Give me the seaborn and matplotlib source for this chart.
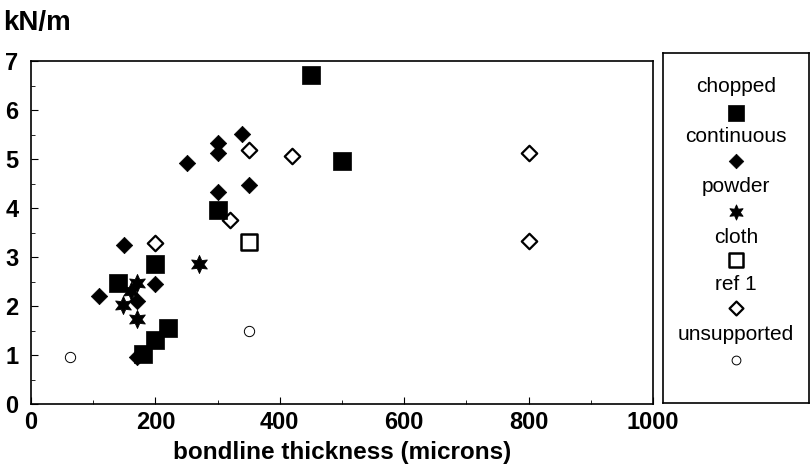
import matplotlib
matplotlib.use("Agg")
import matplotlib.pyplot as plt
import seaborn as sns
import numpy as np

# ---- data ----
chopped_x = [140, 200, 220, 200, 180, 300, 450, 500]
chopped_y = [2.47, 2.85, 1.55, 1.30, 1.03, 3.95, 6.72, 4.95]

continuous_x = [110, 150, 170, 200, 170, 250, 300, 300, 300, 340, 350]
continuous_y = [2.20, 3.25, 2.10, 2.45, 0.95, 4.92, 5.33, 5.12, 4.33, 5.52, 4.46]

powder_x = [170, 160, 148, 170, 270]
powder_y = [2.47, 2.30, 2.02, 1.73, 2.85]

cloth_x = [350]
cloth_y = [3.30]

ref1_x = [200, 320, 350, 420, 800, 800]
ref1_y = [3.28, 3.76, 5.18, 5.07, 5.13, 3.33]

unsupported_x = [62, 350]
unsupported_y = [0.95, 1.50]

legend_labels = ["chopped", "continuous", "powder", "cloth", "ref 1", "unsupported"]
x_ticks = [0, 200, 400, 600, 800, 1000]
y_ticks = [0, 1, 2, 3, 4, 5, 6, 7]

sns.set_theme(style="white")
plt.rcParams["font.family"] = ["Liberation Sans", "DejaVu Sans"]
plt.rcParams["text.color"] = "black"
plt.rcParams["axes.labelcolor"] = "black"
plt.rcParams["xtick.color"] = "black"
plt.rcParams["ytick.color"] = "black"
plt.rcParams["axes.edgecolor"] = "black"

fig = plt.figure(figsize=(8.11, 4.74), dpi=100)
ax = fig.add_axes([31 / 811, 1 - 404 / 474, (653 - 31) / 811, (404 - 61) / 474])

star6 = (6, 1, 0)
styles = {
    "chopped": dict(marker="s", s=150, facecolor="black", edgecolor="black", linewidth=0.5),
    "continuous": dict(marker="D", s=70, facecolor="black", edgecolor="black", linewidth=0.5),
    "powder": dict(marker=star6, s=170, facecolor="black", edgecolor="black", linewidth=0.6),
    "cloth": dict(marker="s", s=130, facecolor="white", edgecolor="black", linewidth=1.8),
    "ref 1": dict(marker="D", s=62, facecolor="white", edgecolor="black", linewidth=1.6),
    "unsupported": dict(marker="o", s=55, facecolor="white", edgecolor="black", linewidth=0.7),
}
series = {
    "chopped": (chopped_x, chopped_y),
    "continuous": (continuous_x, continuous_y),
    "powder": (powder_x, powder_y),
    "cloth": (cloth_x, cloth_y),
    "ref 1": (ref1_x, ref1_y),
    "unsupported": (unsupported_x, unsupported_y),
}
for name in ["unsupported", "ref 1", "cloth", "continuous", "powder", "chopped"]:
    xs, ys = series[name]
    sns.scatterplot(x=xs, y=ys, ax=ax, legend=False, zorder=3, **styles[name])

ax.set_xlim(0, 1000)
ax.set_ylim(0, 7)
ax.set_xticks(x_ticks)
ax.set_yticks(y_ticks)
ax.set_xticks(np.arange(0, 1001, 100), minor=True)
ax.set_yticks(np.arange(0, 7.01, 0.5), minor=True)
ax.tick_params(axis="both", which="both", direction="in", colors="black",
               labelsize=17)
ax.tick_params(axis="both", which="major", length=5, width=0.8)
ax.tick_params(axis="both", which="minor", length=3, width=0.6)
ax.tick_params(axis="x", which="both", bottom=True, top=False, pad=5)
ax.tick_params(axis="y", which="both", left=True, right=False, pad=9)
for lab in ax.get_xticklabels() + ax.get_yticklabels():
    lab.set_fontweight("bold")
for sp in ax.spines.values():
    sp.set_color("black")
    sp.set_linewidth(1.2)
ax.set_xlabel("bondline thickness (microns)", fontsize=17.5, fontweight="bold", labelpad=5)
ax.set_ylabel("")
fig.text(3 / 811, 1 - 23 / 474, "kN/m", fontsize=20, fontweight="bold", ha="left", va="center")

# ---- legend box (text above marker) ----
lax = fig.add_axes([663 / 811, 1 - 403 / 474, (809 - 663) / 811, (403 - 53) / 474])
lax.set_xlim(0, 1)
lax.set_ylim(0, 1)
lax.set_xticks([])
lax.set_yticks([])
for sp in lax.spines.values():
    sp.set_color("black")
    sp.set_linewidth(1.2)
text_px = [87, 137, 187, 237, 285, 335]
mark_px = [113, 161, 212, 260, 308, 360]
leg_sizes = {"chopped": 130, "continuous": 55, "powder": 120, "cloth": 110, "ref 1": 50, "unsupported": 40}
for name, tp, mp in zip(legend_labels, text_px, mark_px):
    lax.text(0.5, (403 - tp) / 350, name, ha="center", va="center", fontsize=15, color="black")
    st = dict(styles[name])
    st["s"] = leg_sizes[name]
    lax.scatter([0.5], [(403 - mp) / 350], **st)

fig.savefig("out.png", dpi=100)
